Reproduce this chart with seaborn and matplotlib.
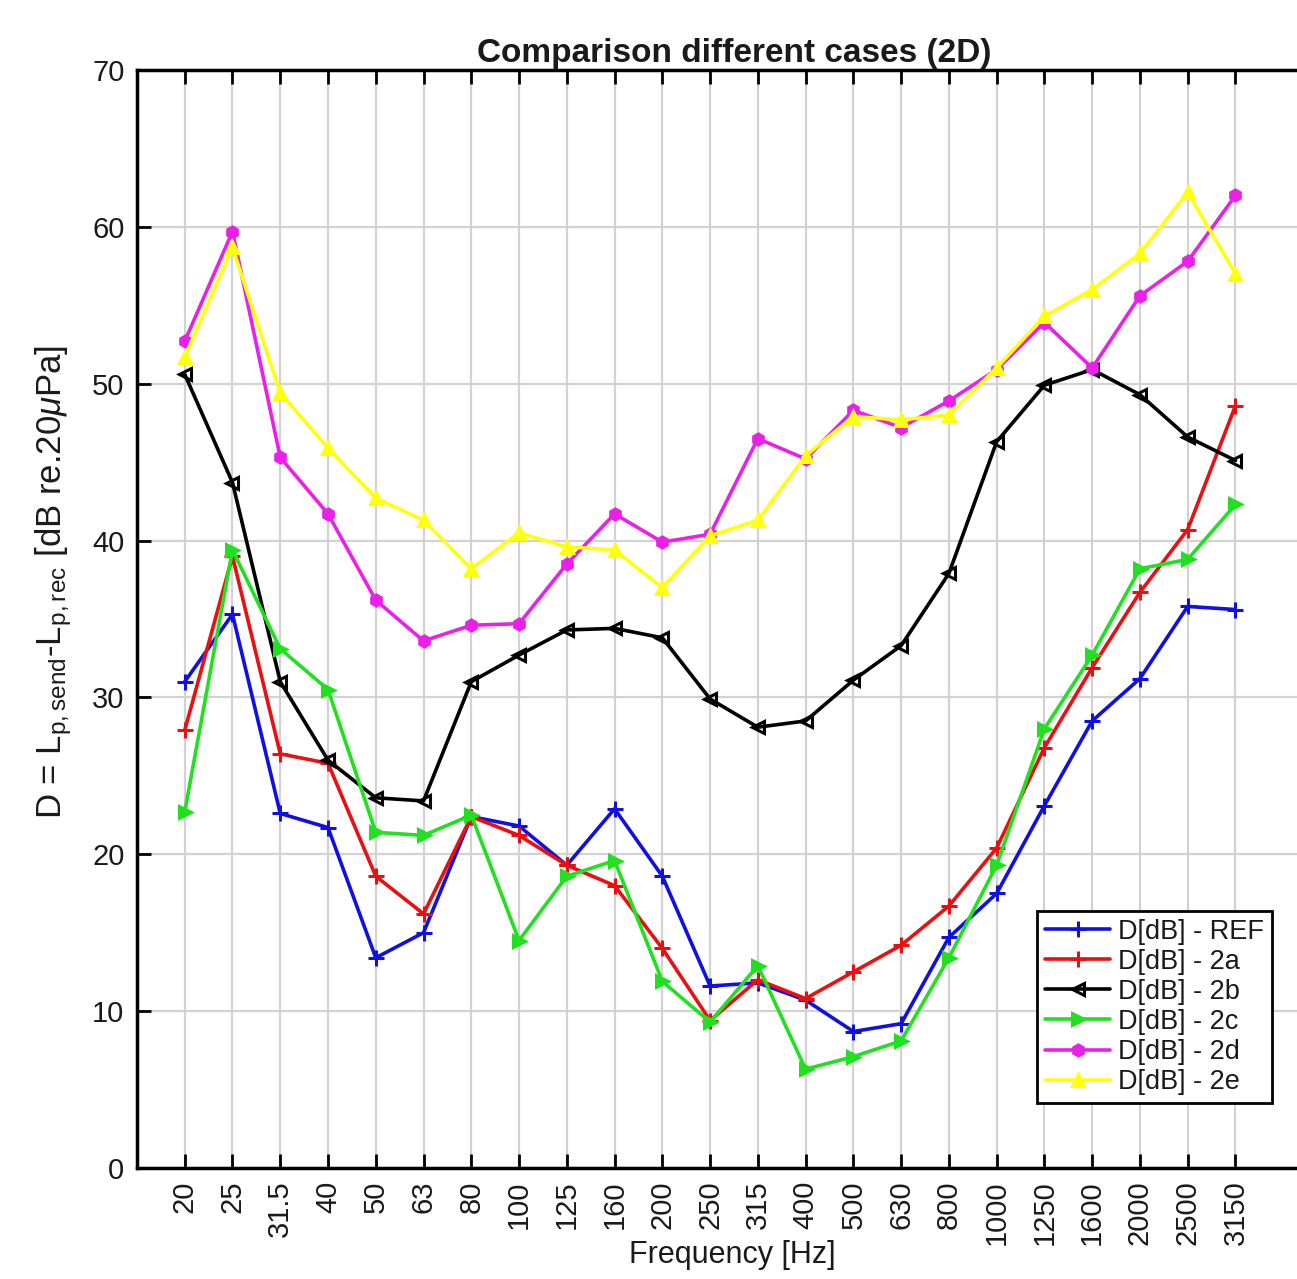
import numpy as np
import pandas as pd
import seaborn as sns
import matplotlib
matplotlib.use('Agg')
import matplotlib.pyplot as plt

freqs = ['20', '25', '31.5', '40', '50', '63', '80', '100', '125', '160', '200',
         '250', '315', '400', '500', '630', '800', '1000', '1250', '1600', '2000',
         '2500', '3150']

d_ref = [31.0, 35.3, 22.6, 21.7, 13.4, 15.0, 22.4, 21.8, 19.3, 22.9, 18.6, 11.6,
         11.8, 10.7, 8.7, 9.2, 14.7, 17.5, 23.1, 28.5, 31.2, 35.8, 35.6]
d_2a = [27.9, 39.0, 26.4, 25.8, 18.6, 16.2, 22.4, 21.2, 19.3, 18.0, 14.0, 9.4,
        12.0, 10.8, 12.5, 14.2, 16.7, 20.4, 26.8, 31.9, 36.7, 40.7, 48.6]
d_2b = [50.6, 43.7, 31.0, 26.0, 23.6, 23.4, 31.0, 32.7, 34.3, 34.4, 33.8, 29.9,
        28.1, 28.5, 31.1, 33.3, 37.9, 46.3, 49.9, 50.9, 49.3, 46.6, 45.1]
d_2c = [22.7, 39.4, 33.1, 30.5, 21.4, 21.2, 22.5, 14.5, 18.6, 19.6, 11.9, 9.3,
        12.9, 6.3, 7.1, 8.1, 13.4, 19.3, 28.0, 32.7, 38.2, 38.8, 42.3]
d_2d = [52.7, 59.7, 45.3, 41.7, 36.2, 33.6, 34.6, 34.7, 38.5, 41.7, 39.9, 40.4,
        46.5, 45.2, 48.3, 47.2, 48.9, 50.9, 53.9, 51.0, 55.6, 57.8, 62.0]
d_2e = [51.7, 58.7, 49.4, 45.9, 42.7, 41.3, 38.2, 40.5, 39.6, 39.4, 37.0, 40.3,
        41.3, 45.4, 47.9, 47.7, 48.0, 51.0, 54.3, 56.0, 58.3, 62.2, 57.0]

labels = ['D[dB] - REF', 'D[dB] - 2a', 'D[dB] - 2b', 'D[dB] - 2c', 'D[dB] - 2d', 'D[dB] - 2e']
series = [d_ref, d_2a, d_2b, d_2c, d_2d, d_2e]

pos = np.arange(1, len(freqs) + 1)

sns.set_theme(style="white")
plt.rcParams['font.family'] = ['Liberation Sans', 'DejaVu Sans']
plt.rcParams['mathtext.fontset'] = 'custom'
plt.rcParams['mathtext.rm'] = 'Liberation Sans'
plt.rcParams['mathtext.it'] = 'Liberation Sans:italic'
plt.rcParams['text.color'] = '#1a1a1a'
plt.rcParams['axes.labelcolor'] = '#1a1a1a'

fig = plt.figure(figsize=(12.97, 12.79), dpi=100)
ax = fig.add_axes([0.1056, 0.0868, 0.9206, 0.8585])

# (color, marker, size, face)
styles = [
    ('#1010e0', '+', 11, None),
    ('#e81010', '+', 11, None),
    ('#000000', '<', 9, 'none'),
    ('#20e020', '>', 9, None),
    ('#e820e8', 'h', 8, None),
    ('#ffff10', '^', 9, None),
]

for vals, lab, (col, mk, ms, fc) in zip(series, labels, styles):
    df = pd.DataFrame({'pos': pos, 'D': vals})
    sns.lineplot(data=df, x='pos', y='D', ax=ax, color=col, linewidth=2.6,
                 marker=mk, markersize=ms, markeredgecolor=col,
                 markerfacecolor=(fc if fc else col), markeredgewidth=2.2,
                 label=lab)

ax.set_xlim(0, 25)
ax.set_ylim(0, 70)
ax.set_xticks(pos)
ax.set_xticklabels(freqs, rotation=90)
ax.set_yticks(np.arange(0, 71, 10))

ax.grid(True, color='#d2d2d2', linewidth=1.6)
ax.set_axisbelow(True)
for s in ax.spines.values():
    s.set_color('black')
    s.set_linewidth(2.5)

ax.tick_params(axis='both', direction='in', length=10, width=2, color='black',
               labelcolor='#1a1a1a', labelsize=21, pad=9,
               top=True, bottom=True, left=True, right=False)

ax.set_title('Comparison different cases (2D)', fontsize=24, fontweight='bold', pad=6)
ax.set_xlabel('Frequency [Hz]', fontsize=22, va='center')
ax.xaxis.set_label_coords(0.499, -0.079)
ax.set_ylabel(r'D = L$_\mathregular{p,send}$-L$_\mathregular{p,rec}$ [dB re.20$\mu$Pa]',
              fontsize=25)
ax.yaxis.set_label_coords(-0.053, 0.534)

leg = ax.legend(loc='lower right', bbox_to_anchor=(0.951, 0.059), borderaxespad=0,
                fontsize=19.5, labelspacing=0.15, handlelength=2.4, handletextpad=0.3,
                fancybox=False, framealpha=1, borderpad=0.3)
leg.get_frame().set_edgecolor('black')
leg.get_frame().set_linewidth(2)

fig.savefig('out.png', dpi=100)
